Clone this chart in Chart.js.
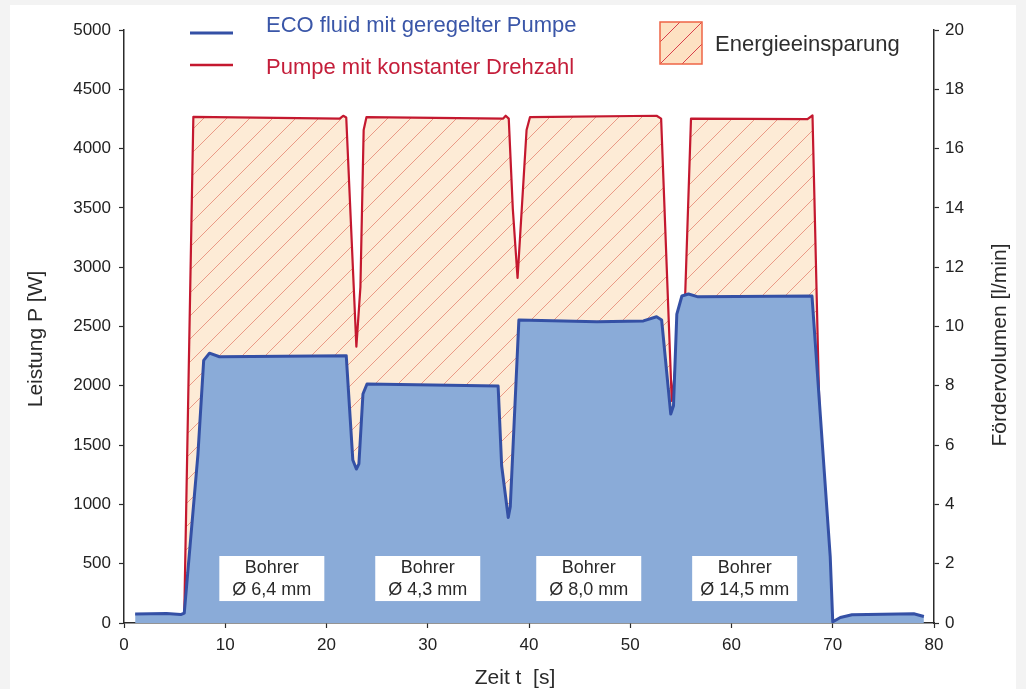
<!DOCTYPE html>
<html>
<head>
<meta charset="utf-8">
<script src="https://cdn.jsdelivr.net/npm/chart.js@4.4.1/dist/chart.umd.min.js"></script>
<style>
  html, body { margin: 0; padding: 0; background: #f3f3f3; }
  canvas { display: block; }
</style>
</head>
<body>
<canvas id="c" width="1026" height="689"></canvas>
<script>
// ---- data ----
const ecoTime  = [1.1, 4.2, 5.6, 5.95, 7.3, 7.87, 8.44, 9.43, 21.95, 22.6, 22.95, 23.2, 23.6, 24.0, 36.95, 37.3, 37.95, 38.15, 39.0, 46.7, 51.3, 52.6, 53.1, 54.0, 54.27, 54.6, 55.1, 55.75, 56.7, 67.95, 69.75, 70.0, 70.75, 71.9, 78.0, 79.0];
const ecoPower = [76, 80, 71, 84, 1420, 2214, 2275, 2245, 2254, 1374, 1298, 1341, 1931, 2015, 1998, 1326, 890, 980, 2555, 2540, 2547, 2582, 2555, 1762, 1832, 2605, 2757, 2774, 2750, 2757, 560, 10, 46, 69, 78, 55];

const constTime  = [1.3, 5.8, 5.95, 6.85, 21.3, 21.65, 21.95, 22.95, 23.35, 23.67, 23.95, 37.45, 37.7, 38.0, 38.4, 38.87, 39.76, 40.1, 52.6, 53.05, 54.1, 54.45, 55.4, 56.0, 67.5, 68.0, 68.62, 69.3];
const constPower = [0, 0, 60, 4268, 4253, 4277, 4262, 2330, 2833, 4157, 4266, 4253, 4277, 4253, 3494, 2909, 4157, 4266, 4277, 4253, 1872, 2150, 2700, 4253, 4248, 4279, 2000, 0];

const drillCenters = [14.6, 30.0, 45.9, 61.3];
const drillLine1 = ['Bohrer', 'Bohrer', 'Bohrer', 'Bohrer'];
const drillLine2 = ['Ø 6,4 mm', 'Ø 4,3 mm', 'Ø 8,0 mm', 'Ø 14,5 mm'];

const legendEco = 'ECO fluid mit geregelter Pumpe';
const legendConst = 'Pumpe mit konstanter Drehzahl';
const legendSaving = 'Energieeinsparung';
const titleLeft = 'Leistung P [W]';
const titleRight = 'Fördervolumen [l/min]';
const titleX = 'Zeit t  [s]';

// ---- styles ----
const FONT = '"Liberation Sans", Arial, Helvetica, sans-serif';
const BLUE_LINE = '#3450a5';
const BLUE_FILL = '#8aabd8';
const RED_LINE = '#c4182f';
const AXIS = '#2b2b2b';

function hatch(size, bg, line) {
  const c = document.createElement('canvas');
  c.width = size; c.height = size;
  const g = c.getContext('2d');
  g.fillStyle = bg; g.fillRect(0, 0, size, size);
  g.strokeStyle = line; g.lineWidth = 1;
  g.beginPath();
  g.moveTo(0, size); g.lineTo(size, 0);
  g.moveTo(-2, 2); g.lineTo(2, -2);
  g.moveTo(size - 2, size + 2); g.lineTo(size + 2, size - 2);
  g.stroke();
  return g.createPattern(c, 'repeat');
}
const ctx = document.getElementById('c').getContext('2d');
const hatchPattern = hatch(23, '#fdebd6', '#ea9a86');

const ecoData = ecoTime.map((t, i) => ({x: t, y: ecoPower[i]}));
const constData = constTime.map((t, i) => ({x: t, y: constPower[i]}));

const decor = {
  id: 'decor',
  beforeDraw(chart) {
    const g = chart.ctx;
    g.save();
    g.fillStyle = '#f3f3f3';
    g.fillRect(0, 0, chart.width, chart.height);
    g.fillStyle = '#ffffff';
    g.fillRect(10, 5, chart.width - 20, chart.height - 5);
    g.restore();
  },
  afterDatasetsDraw(chart) {
    const g = chart.ctx;
    const xs = chart.scales.x, ys = chart.scales.y;
    g.save();
    const top = ys.getPixelForValue(565), bot = ys.getPixelForValue(185);
    drillCenters.forEach((t, i) => {
      const cx = xs.getPixelForValue(t);
      g.fillStyle = '#ffffff';
      g.fillRect(cx - 52.5, top, 105, bot - top);
      g.fillStyle = '#2a2a2a';
      g.font = '18px ' + FONT;
      g.textAlign = 'center';
      g.textBaseline = 'alphabetic';
      g.fillText(drillLine1[i], cx, top + 17);
      g.fillText(drillLine2[i], cx, top + 39);
    });
    g.restore();
  },
  afterDraw(chart) {
    const g = chart.ctx;
    g.save();
    g.lineCap = 'butt';
    g.strokeStyle = BLUE_LINE; g.lineWidth = 3;
    g.beginPath(); g.moveTo(190, 33); g.lineTo(233, 33); g.stroke();
    g.strokeStyle = RED_LINE; g.lineWidth = 2.5;
    g.beginPath(); g.moveTo(190, 65); g.lineTo(233, 65); g.stroke();
    g.font = '22px ' + FONT;
    g.textAlign = 'left'; g.textBaseline = 'alphabetic';
    g.fillStyle = '#3a56a8';
    g.fillText(legendEco, 266, 32);
    g.fillStyle = '#c41e3a';
    g.fillText(legendConst, 266, 74);
    const bx = 660, by = 22, bs = 42;
    g.fillStyle = '#fde1c2';
    g.fillRect(bx, by, bs, bs);
    g.save();
    g.beginPath(); g.rect(bx, by, bs, bs); g.clip();
    g.strokeStyle = '#d8404a'; g.lineWidth = 1;
    g.beginPath();
    for (let k = -2; k <= 3; k++) {
      const off = k * 22;
      g.moveTo(bx + off, by + bs); g.lineTo(bx + off + bs, by);
    }
    g.stroke();
    g.restore();
    g.strokeStyle = '#ee6446'; g.lineWidth = 1.5;
    g.strokeRect(bx, by, bs, bs);
    g.fillStyle = '#2e2e2e';
    g.font = '22px ' + FONT;
    g.fillText(legendSaving, 715, 51);
    g.fillStyle = '#2a2a2a';
    g.font = '21px ' + FONT;
    g.textAlign = 'center';
    g.fillText(titleX, 515, 684);
    g.save();
    g.translate(42, 339); g.rotate(-Math.PI / 2);
    g.fillText(titleLeft, 0, 0);
    g.restore();
    g.save();
    g.translate(1006, 345); g.rotate(-Math.PI / 2);
    g.fillText(titleRight, 0, 0);
    g.restore();
    g.restore();
  }
};

const tickFont = {family: FONT, size: 17};
const plain = v => String(v);

new Chart(ctx, {
  type: 'line',
  data: {
    datasets: [
      {
        label: legendEco,
        data: ecoData,
        borderColor: BLUE_LINE,
        backgroundColor: BLUE_FILL,
        borderWidth: 3,
        fill: 'origin',
        pointRadius: 0,
        tension: 0,
        borderJoinStyle: 'round',
        order: 0,
        yAxisID: 'y'
      },
      {
        label: legendConst,
        data: constData,
        borderColor: RED_LINE,
        backgroundColor: hatchPattern,
        borderWidth: 2.2,
        fill: 'origin',
        pointRadius: 0,
        tension: 0,
        borderJoinStyle: 'round',
        order: 1,
        yAxisID: 'y'
      }
    ]
  },
  options: {
    responsive: false,
    animation: false,
    devicePixelRatio: 1,
    layout: {padding: {left: 0, right: 0, top: 30, bottom: 0}},
    plugins: {legend: {display: false}, tooltip: {enabled: false}},
    scales: {
      x: {
        type: 'linear', position: 'bottom', min: 0, max: 80, z: 1,
        ticks: {stepSize: 10, font: tickFont, color: '#222', padding: 7, maxRotation: 0, callback: plain},
        grid: {drawOnChartArea: false, drawTicks: true, tickLength: 5, color: AXIS, tickWidth: 1.2},
        border: {display: true, color: AXIS, width: 1.5},
        afterFit(s) { s.height = 66; }
      },
      y: {
        type: 'linear', position: 'left', min: 0, max: 5000, z: 1,
        ticks: {stepSize: 500, font: tickFont, color: '#222', padding: 8, callback: plain},
        grid: {drawOnChartArea: false, drawTicks: true, tickLength: 5, color: AXIS, tickWidth: 1.2},
        border: {display: true, color: AXIS, width: 1.5},
        afterFit(s) { s.width = 124; }
      },
      y2: {
        type: 'linear', position: 'right', min: 0, max: 20, z: 1,
        ticks: {stepSize: 2, font: tickFont, color: '#222', padding: 6, callback: plain},
        grid: {drawOnChartArea: false, drawTicks: true, tickLength: 5, color: AXIS, tickWidth: 1.2},
        border: {display: true, color: AXIS, width: 1.5},
        afterFit(s) { s.width = 92; }
      }
    }
  },
  plugins: [decor]
});
</script>
</body>
</html>
